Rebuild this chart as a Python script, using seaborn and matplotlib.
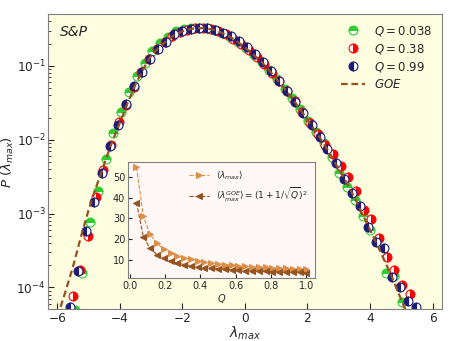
import numpy as np
import matplotlib
matplotlib.use('Agg')
import matplotlib.pyplot as plt
import seaborn as sns

# main panel: histogram points of the largest eigenvalue, log10 of P
lam_q038 = [-5.45, -5.20, -4.95, -4.70, -4.45, -4.21, -3.96, -3.71, -3.46, -3.21, -2.96,
            -2.71, -2.46, -2.21, -1.96, -1.71, -1.47, -1.22, -0.97, -0.72, -0.47, -0.22,
            0.03, 0.28, 0.53, 0.78, 1.02, 1.27, 1.52, 1.77, 2.02, 2.27, 2.52, 2.77, 3.01,
            3.26, 3.51, 3.76, 4.01, 4.26, 4.51, 4.76, 5.01]
logp_q038 = [-4.31, -3.80, -3.12, -2.70, -2.26, -1.91, -1.62, -1.35, -1.14, -0.96, -0.80,
             -0.69, -0.61, -0.53, -0.50, -0.49, -0.487, -0.49, -0.515, -0.56, -0.61, -0.68,
             -0.76, -0.85, -0.95, -1.06, -1.18, -1.31, -1.44, -1.59, -1.74, -1.89, -2.05,
             -2.23, -2.45, -2.64, -2.81, -3.04, -3.22, -3.35, -3.80, -3.85, -4.20]

lam_q38 = [-5.51, -5.27, -5.02, -4.78, -4.53, -4.29, -4.04, -3.80, -3.55, -3.31, -3.06,
           -2.82, -2.57, -2.33, -2.08, -1.84, -1.59, -1.35, -1.10, -0.86, -0.61, -0.37,
           -0.12, 0.12, 0.37, 0.61, 0.86, 1.10, 1.35, 1.59, 1.84, 2.08, 2.33, 2.57, 2.82,
           3.06, 3.31, 3.55, 3.80, 4.04, 4.29, 4.53, 4.78, 5.02, 5.27]
logp_q38 = [-4.12, -3.77, -3.30, -2.78, -2.41, -2.07, -1.76, -1.53, -1.29, -1.08, -0.90,
            -0.77, -0.68, -0.60, -0.54, -0.51, -0.49, -0.485, -0.50, -0.53, -0.57, -0.63,
            -0.70, -0.79, -0.88, -0.97, -1.09, -1.21, -1.34, -1.48, -1.63, -1.77, -1.92,
            -2.07, -2.20, -2.36, -2.51, -2.69, -2.95, -3.08, -3.33, -3.59, -3.76, -3.97, -4.09]

lam_q99 = [-5.61, -5.35, -5.09, -4.84, -4.58, -4.32, -4.06, -3.80, -3.55, -3.29, -3.03,
           -2.77, -2.51, -2.26, -2.00, -1.74, -1.48, -1.22, -0.97, -0.71, -0.45, -0.19,
           0.06, 0.32, 0.58, 0.84, 1.10, 1.35, 1.61, 1.87, 2.13, 2.39, 2.64, 2.90, 3.16,
           3.42, 3.68, 3.93, 4.19, 4.45, 4.71, 4.96, 5.22, 5.48]
logp_q99 = [-4.26, -3.78, -3.24, -2.85, -2.45, -2.08, -1.80, -1.51, -1.27, -1.08, -0.91,
            -0.77, -0.68, -0.57, -0.53, -0.50, -0.486, -0.486, -0.51, -0.55, -0.60, -0.66,
            -0.75, -0.84, -0.95, -1.07, -1.20, -1.34, -1.49, -1.64, -1.80, -1.96, -2.12,
            -2.31, -2.53, -2.72, -2.90, -3.18, -3.38, -3.46, -3.86, -3.99, -4.19, -4.26]

lam_goe = [-6.0, -5.75, -5.5, -5.25, -5.0, -4.75, -4.5, -4.25, -4.0, -3.75, -3.5, -3.25,
           -3.0, -2.75, -2.5, -2.25, -2.0, -1.75, -1.5, -1.25, -1.0, -0.75, -0.5, -0.25,
           0.0, 0.25, 0.5, 0.75, 1.0, 1.25, 1.5, 1.75, 2.0, 2.25, 2.5, 2.75, 3.0, 3.25,
           3.5, 3.75, 4.0, 4.25, 4.5, 4.75, 5.0, 5.25]
logp_goe = [-4.40, -4.07, -3.72, -3.32, -2.95, -2.63, -2.33, -2.03, -1.77, -1.50, -1.25,
            -1.04, -0.86, -0.75, -0.66, -0.58, -0.53, -0.50, -0.487, -0.49, -0.51, -0.55,
            -0.60, -0.67, -0.75, -0.84, -0.93, -1.05, -1.17, -1.30, -1.43, -1.58, -1.73,
            -1.88, -2.04, -2.21, -2.40, -2.58, -2.78, -3.00, -3.22, -3.44, -3.67, -3.91,
            -4.17, -4.42]

# inset: mean largest eigenvalue vs Q
q_vals = [0.038, 0.077, 0.115, 0.154, 0.192, 0.231, 0.269, 0.308, 0.346, 0.385, 0.423,
          0.462, 0.5, 0.538, 0.577, 0.615, 0.654, 0.692, 0.731, 0.769, 0.808, 0.846,
          0.885, 0.923, 0.962, 1.0]
lam_mean = [54.5, 31.0, 22.5, 18.0, 15.3, 13.6, 12.2, 11.1, 10.3, 9.6, 9.1, 8.6, 8.2,
            7.9, 7.6, 7.3, 7.1, 6.9, 6.7, 6.5, 6.3, 6.2, 6.0, 5.9, 5.8, 5.6]
lam_goe_mean = [37.6, 21.2, 15.6, 12.6, 10.8, 9.5, 8.6, 7.9, 7.3, 6.8, 6.4, 6.1, 5.8,
                5.6, 5.4, 5.2, 5.0, 4.85, 4.7, 4.6, 4.5, 4.4, 4.3, 4.2, 4.1, 4.0]

sns.set_style('ticks')
plt.rcParams['font.family'] = ['DejaVu Sans']
plt.rcParams['mathtext.fontset'] = 'dejavusans'

fig = plt.figure(figsize=(4.57, 3.41), dpi=100)
ax = fig.add_axes([0.105, 0.094, 0.862, 0.864])
ax.set_facecolor('#fffde0')
ax.set_yscale('log')

series = [
    (lam_q038, logp_q038, '#2fcc2f', 'top', r'$Q = 0.038$'),
    (lam_q38, logp_q38, '#ff0000', 'right', r'$Q = 0.38$'),
    (lam_q99, logp_q99, '#1c1c78', 'left', r'$Q = 0.99$'),
]
for lam, logp, col, fs, lab in series:
    sns.lineplot(x=lam, y=10 ** np.array(logp), ax=ax, errorbar=None, linestyle='',
                 marker='o', markersize=6.4, color=col, markerfacecolor=col,
                 markeredgecolor=col, markerfacecoloralt='white', fillstyle=fs,
                 markeredgewidth=0.8, label=lab)

sns.lineplot(x=lam_goe, y=10 ** np.array(logp_goe), ax=ax, errorbar=None,
             color='#96501e', linewidth=1.6, linestyle=(0, (3.0, 1.7)), label=r'$GOE$')

ax.set_xlim(-6.3, 6.3)
ax.set_ylim(5.1e-5, 0.5)
ax.set_xticks([-6, -4, -2, 0, 2, 4, 6])
ax.set_xlabel(r'$\lambda_{max}$', fontsize=10)
ax.set_ylabel(r'$P\ (\lambda_{max})$', fontsize=9.5)
ax.xaxis.set_label_coords(0.5, -0.052)
ax.yaxis.set_label_coords(-0.082, 0.5)
ax.tick_params(axis='both', which='both', direction='in', labelsize=8.7)
ax.tick_params(axis='y', pad=1.5)
ax.tick_params(axis='x', pad=2.5)
ax.tick_params(which='major', length=4)
ax.tick_params(which='minor', length=2)
for sp in ax.spines.values():
    sp.set_color('#808080')
ax.text(0.03, 0.965, 'S&P', transform=ax.transAxes, fontsize=10, va='top',
        style='italic')
ax.legend(loc='upper right', frameon=False, fontsize=8.5, handlelength=2.0,
          handletextpad=0.8, labelspacing=0.35, borderaxespad=0.4)

# inset
ax2 = fig.add_axes([0.280, 0.185, 0.409, 0.340])
ax2.set_facecolor('#fdf8f5')
sns.lineplot(x=q_vals, y=lam_mean, ax=ax2, errorbar=None, color='#dd8e48',
             linestyle='--', linewidth=0.8, marker='>', markersize=4,
             markeredgecolor='#dd8e48', label=r'$\langle\lambda_{max}\rangle$')
sns.lineplot(x=q_vals, y=lam_goe_mean, ax=ax2, errorbar=None, color='#97531f',
             linestyle='--', linewidth=0.8, marker='<', markersize=4,
             markeredgecolor='#97531f',
             label=r'$\langle\lambda_{max}^{GOE}\rangle=(1+1/\sqrt{Q})^2$')
ax2.set_xticks([0.0, 0.2, 0.4, 0.6, 0.8, 1.0])
ax2.set_yticks([10, 20, 30, 40, 50])
ax2.tick_params(direction='in', labelsize=7, length=3, pad=2)
ax2.set_xlabel(r'$Q$', fontsize=7, labelpad=1)
ax2.set_ylabel('')
for sp in ax2.spines.values():
    sp.set_color('#808080')
ax2.legend(loc='upper right', frameon=False, fontsize=6.5, handlelength=2.2,
           labelspacing=0.5, borderaxespad=0.4)

fig.savefig('out.png', dpi=100)
